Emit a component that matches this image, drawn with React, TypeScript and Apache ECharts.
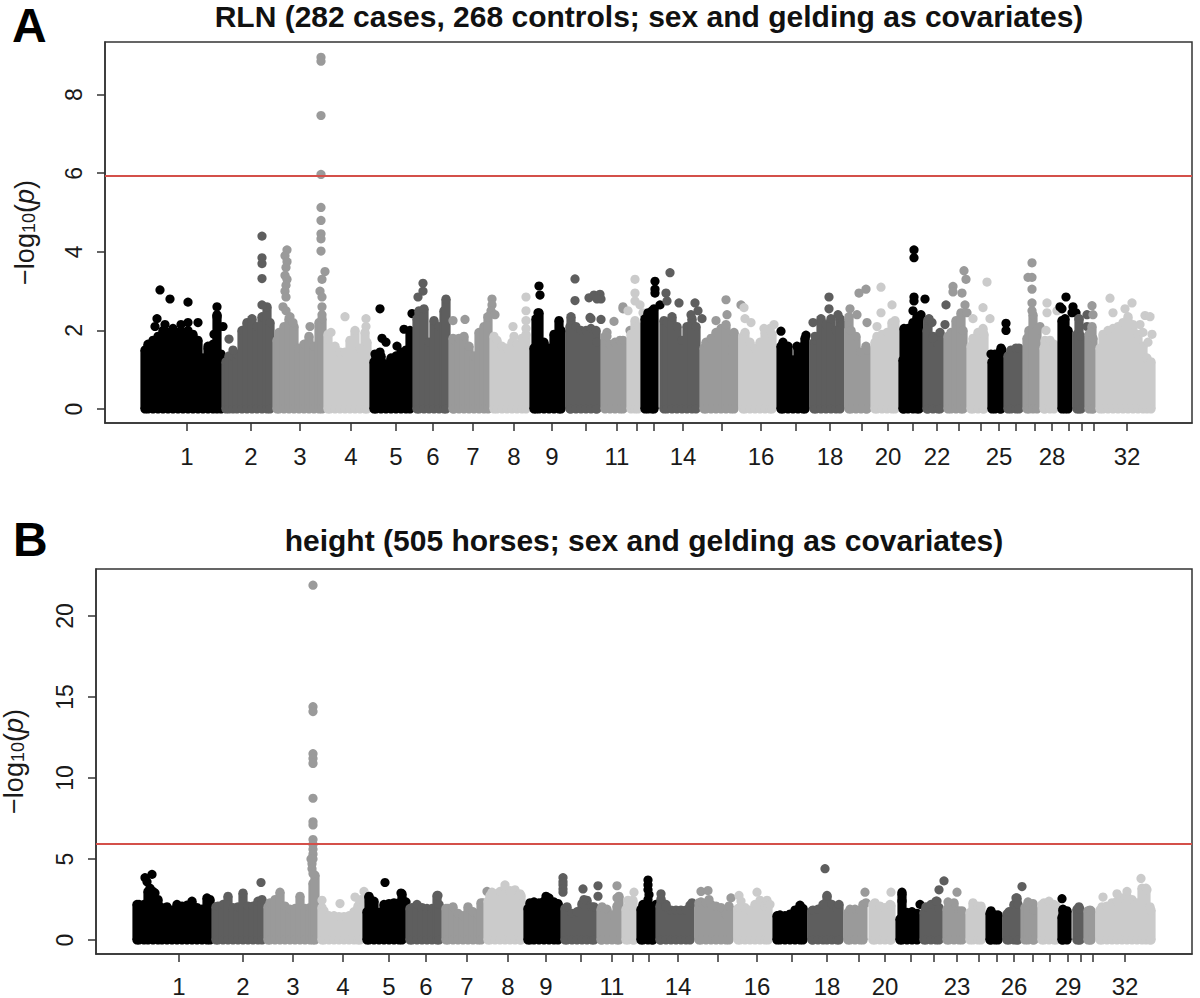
import React, { useEffect, useRef } from "react";
import * as echarts from "echarts";

const chrColors = ["#000000", "#5e5e5e", "#9a9a9a", "#cbcbcb"];
const threshold = 5.93;

const ticksA = [187,251,300,351,396,433,473,514,552,586,617,637,654,683,722,761,796,830,862,888,913,937,959,981,999,1016,1035,1052,1069,1082,1094,1127];
const ticksB = [179,243,293,343,389,426,467,508,546,581,612,633,649,678,718,757,792,827,859,885,911,934,957,979,997,1014,1033,1050,1068,1081,1093,1125];
const labeledChrA = [1,2,3,4,5,6,7,8,9,11,14,16,18,20,22,25,28,32];
const labeledChrB = [1,2,3,4,5,6,7,8,9,11,14,16,18,20,23,26,29,32];

// Upper edge of the dense cloud per chromosome: [position, -log10(p)]
const massA: number[][][] = [
  [[145,1.5],[148,1.65],[153,1.75],[158,1.85],[163,2.0],[168,1.95],[173,2.05],[178,1.95],[183,1.95],[188,2.0],[193,1.9],[198,1.75],[203,1.3],[208,1.55],[213,1.65],[217,2.4],[221,1.4]],
  [[226,1.2],[229,1.35],[233,1.35],[237,1.4],[242,2.0],[247,2.2],[252,2.3],[257,2.1],[262,2.35],[267,2.6],[270,2.2]],
  [[277,1.75],[279,1.95],[284,2.1],[289,2.3],[294,2.1],[299,1.55],[304,1.65],[309,1.85],[314,1.6],[319,2.2],[322,2.3]],
  [[328,1.9],[330,1.6],[335,1.6],[340,1.45],[345,1.45],[350,1.75],[355,2.0],[360,1.55],[365,1.95],[367,1.7]],
  [[374,1.2],[376,1.35],[381,1.35],[386,1.15],[391,1.3],[396,1.35],[401,1.45],[406,1.5],[410,2.0]],
  [[417,2.3],[419,2.5],[424,2.55],[429,1.7],[434,2.25],[439,2.1],[444,2.5],[446,2.8]],
  [[453,1.8],[454,1.75],[459,1.8],[464,1.85],[469,1.6],[474,1.35],[479,1.95],[484,2.1],[488,2.35]],
  [[494,1.85],[497,1.75],[502,1.6],[507,1.55],[512,1.7],[517,1.65],[522,1.8],[526,1.9]],
  [[534,1.55],[536,2.3],[539,2.45],[544,1.7],[549,1.55],[554,1.9],[559,2.25],[561,2.0]],
  [[570,2.1],[571,2.35],[576,2.1],[581,2.0],[586,2.0],[591,2.05],[596,2.0],[597,1.7]],
  [[605,1.85],[610,1.65],[615,1.7],[620,1.75],[623,1.75]],
  [[631,1.9],[635,2.25],[638,2.1]],
  [[645,2.3],[648,2.45],[652,2.5],[654,2.55]],
  [[664,2.25],[667,2.2],[672,2.35],[677,2.1],[682,1.75],[687,2.1],[692,2.3],[696,2.1]],
  [[704,1.55],[706,1.7],[711,1.8],[716,1.95],[721,2.05],[726,2.15],[731,1.5],[734,1.95]],
  [[743,1.85],[745,1.95],[750,1.7],[755,1.55],[760,1.7],[765,1.95],[770,2.05],[772,1.9]],
  [[781,1.6],[783,1.7],[788,1.6],[793,1.25],[798,1.55],[803,1.6],[805,1.8]],
  [[814,1.7],[816,1.75],[821,2.3],[826,2.15],[831,2.3],[836,2.0],[840,2.3]],
  [[849,2.35],[851,2.0],[856,1.85],[861,1.45],[866,1.6],[867,1.5]],
  [[875,1.7],[877,1.85],[882,1.9],[887,1.95],[892,2.2],[895,2.25]],
  [[903,1.25],[904,2.05],[908,2.05],[913,2.2],[917,2.35],[919,2.3]],
  [[927,2.0],[928,2.25],[933,1.85],[938,1.65],[940,1.95]],
  [[948,1.85],[951,1.95],[956,2.25],[961,2.45],[963,2.0]],
  [[971,1.6],[973,1.8],[978,1.95],[983,2.05],[984,1.9]],
  [[992,1.2],[995,1.4],[1000,1.45],[1001,1.55]],
  [[1008,1.35],[1011,1.5],[1016,1.55],[1019,1.55]],
  [[1027,1.8],[1029,2.0],[1033,2.4],[1037,2.0]],
  [[1044,1.55],[1045,1.75],[1050,1.75],[1054,1.65]],
  [[1062,2.25],[1065,2.3],[1068,2.0]],
  [[1077,1.9],[1079,2.3],[1081,1.85]],
  [[1089,1.9],[1092,2.1],[1093,1.8]],
  [[1100,1.55],[1103,1.9],[1108,2.0],[1113,2.05],[1118,2.1],[1123,2.2],[1128,2.35],[1133,2.15],[1138,1.9],[1143,1.6],[1147,1.3],[1151,1.2]],
];

// Separate points above the cloud per chromosome
const peaksA: number[][][] = [
  [[160,3.03],[170,2.8],[188,2.72],[157,2.3],[155,2.1],[165,2.15],[181,2.15],[188,2.2],[198,2.2],[217,2.6],[217,2.35],[223,2.1],[208,1.6],[214,1.9]],
  [[262,4.4],[262,3.85],[262,3.7],[262,3.32],[262,2.65],[229,1.78],[233,1.5]],
  [[287,4.05],[285,3.9],[287,3.75],[286,3.6],[285,3.4],[287,3.3],[286,3.15],[285,3.0],[286,2.85],[283,2.6],[286,2.5],[290,2.35],[293,2.2],[321,8.95],[321,8.85],[321,7.47],[321,5.97],[321,5.13],[321,4.8],[321,4.46],[321,4.33],[321,4.02],[325,3.5],[322,3.3],[320,3.0],[322,2.85],[322,2.6],[322,2.4],[310,2.1]],
  [[345,2.35],[366,2.3],[331,1.95],[366,2.1]],
  [[380,2.55],[382,1.8],[386,1.7],[397,1.6],[404,2.03],[412,2.43],[412,1.95],[375,1.4],[380,1.45]],
  [[423,3.2],[423,3.0],[418,2.85]],
  [[465,2.28],[453,2.25],[492,2.8],[492,2.65],[491,2.5],[488,2.35],[495,2.4]],
  [[526,2.85],[526,2.5],[526,2.25],[513,2.1],[514,1.85],[526,2.05]],
  [[539,3.13],[540,2.9],[538,2.45]],
  [[575,3.31],[575,2.76],[589,2.83],[594,2.9],[600,2.92],[601,2.8],[590,2.33],[591,2.3],[601,2.28],[597,2.8]],
  [[614,2.23],[607,1.95],[607,1.85],[623,2.6],[623,2.55],[630,2.0]],
  [[635,3.3],[635,2.95],[635,2.75],[628,2.5],[640,2.65],[643,2.45]],
  [[655,3.25],[655,3.05],[655,2.95],[660,2.65]],
  [[670,3.47],[666,2.95],[667,2.75],[679,2.7],[695,2.7],[698,2.5],[691,2.4],[702,2.3]],
  [[726,2.78],[727,2.4],[716,2.25],[741,2.65]],
  [[744,2.58],[745,2.3],[751,2.2],[764,2.05],[774,2.15]],
  [[781,1.98],[797,1.6],[806,1.88]],
  [[829,2.85],[829,2.55],[813,2.2],[815,1.85],[838,2.4],[842,2.15]],
  [[859,2.95],[866,3.05],[857,2.4],[867,2.2],[850,2.55]],
  [[881,3.1],[881,2.45],[892,2.65],[877,2.1]],
  [[914,4.05],[914,3.85],[914,2.85],[925,2.8],[914,2.75],[913,2.5],[921,2.4]],
  [[946,2.65],[932,2.2],[945,2.15],[929,2.3],[933,1.8]],
  [[964,3.52],[966,3.3],[953,3.12],[953,2.98],[962,2.95],[965,2.65],[967,2.45]],
  [[987,3.23],[983,2.58],[973,2.3],[990,2.3]],
  [[1006,2.18],[1006,2.0],[991,1.4],[1002,1.5]],
  [],
  [[1032,3.72],[1032,3.35],[1028,3.35],[1032,3.05],[1032,2.7],[1032,2.5],[1040,2.1]],
  [[1047,2.7],[1047,2.45],[1057,2.5],[1046,2.0]],
  [[1066,2.85],[1060,2.6],[1062,2.55],[1073,2.6],[1072,2.45],[1076,2.45]],
  [[1087,2.4],[1087,2.1],[1079,2.3]],
  [[1092,2.63],[1093,2.4],[1091,1.95]],
  [[1110,2.82],[1113,2.45],[1125,2.55],[1132,2.7],[1145,2.38],[1150,2.35],[1140,2.15],[1143,1.95],[1152,1.9],[1148,1.7]],
];

const massB: number[][][] = [
  [[137,2.2],[139,2.2],[144,2.2],[148,3.0],[153,3.0],[158,2.5],[162,2.0],[167,2.05],[172,1.85],[177,2.2],[182,2.1],[187,2.15],[192,2.4],[197,2.0],[202,1.9],[207,2.6],[210,2.5]],
  [[216,2.05],[218,2.1],[223,2.2],[228,2.7],[233,2.0],[238,2.05],[243,2.9],[248,2.1],[253,2.1],[258,2.4],[262,2.5]],
  [[268,2.05],[270,2.3],[275,2.5],[280,2.95],[285,2.1],[290,1.9],[295,1.95],[300,2.7],[305,1.95],[310,2.0],[313,3.5],[315,4.0]],
  [[322,2.0],[324,1.8],[329,1.5],[334,1.5],[339,1.45],[344,1.45],[349,1.5],[354,1.75],[358,2.1],[360,2.4]],
  [[367,1.75],[369,2.7],[374,2.4],[379,1.7],[384,2.2],[389,2.25],[394,2.3],[399,2.3],[402,2.85]],
  [[410,1.95],[412,2.0],[417,2.2],[422,2.0],[427,1.95],[432,1.95],[437,2.75],[439,2.2]],
  [[446,1.95],[448,1.95],[453,2.05],[458,1.65],[463,1.5],[468,2.05],[473,1.75],[478,1.6],[481,2.3]],
  [[488,2.4],[490,2.75],[495,2.85],[500,3.0],[505,3.2],[510,3.05],[515,3.1],[520,2.85],[521,2.75]],
  [[528,1.95],[530,2.3],[534,2.35],[539,2.3],[544,2.4],[549,2.6],[554,2.35],[558,2.25]],
  [[565,1.95],[567,2.05],[572,1.65],[577,1.75],[582,2.25],[587,2.45],[592,2.05],[594,2.05]],
  [[601,1.9],[602,2.05],[607,1.9],[612,1.55],[617,2.1],[619,2.7]],
  [[626,1.9],[628,2.1],[633,2.45],[634,1.9]],
  [[641,1.9],[643,2.2],[648,2.1],[652,2.0],[653,2.1]],
  [[660,2.1],[661,2.55],[666,2.2],[671,1.85],[676,1.85],[681,1.85],[686,1.85],[690,2.15]],
  [[699,2.3],[701,2.35],[706,2.3],[711,2.2],[716,2.1],[721,2.0],[726,1.6],[729,2.1]],
  [[738,1.95],[740,2.0],[745,2.0],[750,1.85],[755,2.2],[760,2.45],[765,2.1],[768,2.05]],
  [[777,1.5],[780,1.55],[785,1.5],[790,1.6],[795,1.85],[800,2.15],[803,1.95]],
  [[812,1.8],[813,1.85],[818,1.9],[823,2.2],[827,2.7],[832,2.2],[837,2.0],[839,2.2]],
  [[848,1.7],[850,1.9],[855,1.9],[860,1.85],[863,2.2]],
  [[873,2.2],[875,2.3],[880,2.1],[885,2.0],[890,2.2],[891,2.15]],
  [[900,1.3],[902,2.85],[907,1.7],[912,1.75],[917,1.65]],
  [[924,1.7],[926,2.05],[931,2.2],[936,2.4],[939,2.0]],
  [[947,1.9],[949,2.2],[954,2.3],[959,1.8],[962,1.8]],
  [[970,1.7],[973,2.3],[978,2.1],[981,2.1]],
  [[990,1.65],[991,1.8],[995,1.55],[998,1.55]],
  [[1007,1.6],[1009,1.75],[1014,2.2],[1017,2.6],[1018,2.2]],
  [[1025,2.0],[1028,2.35],[1033,2.25],[1034,1.85]],
  [[1042,2.2],[1044,2.3],[1049,2.4],[1054,2.2],[1056,2.1]],
  [[1062,1.4],[1063,1.85],[1067,1.8]],
  [[1077,1.9],[1079,2.05],[1080,1.9]],
  [[1088,1.8],[1090,1.85],[1091,1.8]],
  [[1100,1.85],[1102,2.05],[1107,2.1],[1112,2.3],[1117,2.4],[1122,2.6],[1127,2.7],[1132,2.5],[1137,2.3],[1142,3.2],[1146,3.2],[1150,2.05],[1151,1.85]],
];

const peaksB: number[][][] = [
  [[152,4.05],[145,3.85],[147,3.6],[150,3.2],[155,2.9]],
  [[261,3.55]],
  [[313,21.9],[313,14.4],[313,14.1],[313,11.5],[313,11.2],[313,10.9],[313,8.75],[313,7.3],[313,7.1],[313,6.2],[313,5.9],[313,5.6],[313,5.3],[313,5.0],[312,4.7],[312,4.4],[313,4.1],[311,5.0]],
  [[322,2.45],[340,2.25],[355,2.65],[364,3.0],[361,2.5]],
  [[385,3.55],[401,2.9],[406,2.35],[369,2.65],[372,2.35]],
  [[438,2.75]],
  [[483,2.3],[487,3.0]],
  [[505,3.4],[492,2.95]],
  [[546,2.7],[558,2.2]],
  [[563,3.85],[563,3.6],[563,3.4],[563,3.15],[563,2.95],[583,3.15],[598,3.35],[598,2.7],[584,2.5]],
  [[617,3.35],[617,2.6]],
  [[634,2.95],[628,2.45]],
  [[648,3.7],[648,3.4],[648,3.1],[649,2.8],[648,2.5],[656,2.2]],
  [[661,2.85],[692,2.3],[666,2.05]],
  [[701,3.0],[708,3.05],[709,2.5],[731,2.6]],
  [[739,2.75],[757,2.95],[767,2.45],[770,2.2],[741,2.4]],
  [],
  [[825,4.4],[827,2.75]],
  [[865,2.95],[866,2.3]],
  [[891,2.95]],
  [[902,2.95],[902,2.4],[920,2.2]],
  [[944,3.65],[939,3.1],[937,2.4]],
  [[957,2.95],[948,2.35]],
  [],
  [],
  [[1022,3.3],[1016,2.6]],
  [],
  [],
  [[1062,2.55],[1063,1.9]],
  [],
  [],
  [[1103,2.65],[1117,2.85],[1127,3.0],[1141,3.8],[1147,3.1]],
];

const font = "'Liberation Sans', Arial, sans-serif";
const dotR = 4.6;

function yName() {
  return "{n|\u2212log}{s|10}{n|(}{i|p}{n|)}";
}

function makeAxes(idx: number, xMin: number, xMax: number, yMin: number, yMax: number, ticks: number[], labeled: number[], yTicks: number[], nameGap: number, labelMargin: number) {
  const labelMap: Record<number, string> = {};
  labeled.forEach((c) => { labelMap[ticks[c - 1]] = String(c); });
  const x = {
    type: "value", gridIndex: idx, min: xMin, max: xMax, splitLine: { show: false },
    axisLine: { show: true, onZero: false, lineStyle: { color: "#333", width: 1.5 } },
    axisTick: { show: true, length: 8, customValues: ticks, lineStyle: { color: "#333", width: 1.5 } },
    axisLabel: { show: true, customValues: labeled.map((c) => ticks[c - 1]), formatter: (v: number) => labelMap[v] || "", fontSize: 24, lineHeight: 20, color: "#1a1a1a", fontFamily: font, margin: labelMargin, hideOverlap: false },
  };
  const y = {
    type: "value", gridIndex: idx, min: yMin, max: yMax, splitLine: { show: false },
    name: yName(), nameLocation: "middle", nameRotate: 90, nameGap,
    nameTextStyle: {
      rich: {
        n: { fontSize: 27, fontFamily: font, color: "#1a1a1a" },
        s: { fontSize: 18, fontFamily: font, color: "#1a1a1a", verticalAlign: "bottom", lineHeight: 27 },
        i: { fontSize: 27, fontFamily: font, fontStyle: "italic", color: "#1a1a1a" },
      },
    },
    axisLine: { show: true, onZero: false, lineStyle: { color: "#333", width: 1.5 } },
    axisTick: { show: true, length: 8, customValues: yTicks, lineStyle: { color: "#333", width: 1.5 } },
    axisLabel: { show: true, rotate: 90, customValues: yTicks, fontSize: 23, color: "#1a1a1a", fontFamily: font, margin: 20 },
  };
  return { x, y };
}

function makeSeries(idx: number, mass: number[][][], peaks: number[][][], xMin: number, xMax: number) {
  const out: any[] = [];
  mass.forEach((m, i) => {
    const color = chrColors[i % 4];
    out.push({
      type: "custom", xAxisIndex: idx, yAxisIndex: idx, data: m, z: 2 + i, clip: false, silent: true,
      encode: { x: 0, y: 1 },
      renderItem: (_: any, api: any) => {
        const v = api.value(0), h = api.value(1);
        const top = api.coord([v, h]);
        const base = api.coord([v, 0]);
        const style = { fill: color };
        return {
          type: "group",
          children: [
            { type: "rect", shape: { x: top[0] - dotR, y: top[1], width: dotR * 2, height: base[1] - top[1] }, style },
            { type: "circle", shape: { cx: top[0], cy: top[1], r: dotR }, style },
            { type: "circle", shape: { cx: top[0], cy: base[1], r: dotR }, style },
          ],
        };
      },
    });
    out.push({
      type: "scatter", xAxisIndex: idx, yAxisIndex: idx, data: peaks[i], z: 2 + i, symbolSize: dotR * 2, silent: true,
      itemStyle: { color, opacity: 1 },
    });
  });
  out.push({
    type: "line", xAxisIndex: idx, yAxisIndex: idx, z: 50, symbol: "none", silent: true,
    data: [[xMin, threshold], [xMax, threshold]],
    lineStyle: { color: "#d4504a", width: 2 },
  });
  return out;
}

export default function App() {
  const ref = useRef<HTMLDivElement>(null);
  useEffect(() => {
    if (!ref.current) return;
    const chart = echarts.init(ref.current, undefined, { renderer: "svg" });
    const a = makeAxes(0, 105, 1192, -0.356, 9.34, ticksA, labeledChrA, [0, 2, 4, 6, 8], 67, 23);
    const b = makeAxes(1, 96, 1192, -0.864, 22.9, ticksB, labeledChrB, [0, 5, 10, 15, 20], 69, 22);
    const titleStyle = { fontFamily: font, fontWeight: "bold", fontSize: 30, fill: "#111", textAlign: "center", textVerticalAlign: "middle" };
    const letterStyle = { fontFamily: font, fontWeight: "bold", fontSize: 48, fill: "#000", textAlign: "left", textVerticalAlign: "middle" };
    chart.setOption({
      animation: false,
      backgroundColor: "#ffffff",
      grid: [
        { left: 105, top: 42, width: 1087, height: 381, show: true, borderColor: "#333", borderWidth: 1.5, backgroundColor: "transparent", outerBoundsMode: "none" },
        { left: 96, top: 569, width: 1096, height: 385, show: true, borderColor: "#333", borderWidth: 1.5, backgroundColor: "transparent", outerBoundsMode: "none" },
      ],
      xAxis: [a.x, b.x],
      yAxis: [a.y, b.y],
      tooltip: { show: false },
      legend: { show: false },
      graphic: [
        { type: "text", x: 649, y: 16, style: { ...titleStyle, text: "RLN (282 cases, 268 controls; sex and gelding as covariates)" } },
        { type: "text", x: 644, y: 540, style: { ...titleStyle, text: "height (505 horses; sex and gelding as covariates)" } },
        { type: "text", x: 12, y: 25, style: { ...letterStyle, text: "A" } },
        { type: "text", x: 13, y: 539, style: { ...letterStyle, text: "B" } },
      ],
      series: [
        ...makeSeries(0, massA, peaksA, 105, 1192),
        ...makeSeries(1, massB, peaksB, 96, 1192),
      ],
    });
    return () => chart.dispose();
  }, []);
  return <div ref={ref} style={{ position: "absolute", left: 0, top: 0, width: 1200, height: 998 }} />;
}
